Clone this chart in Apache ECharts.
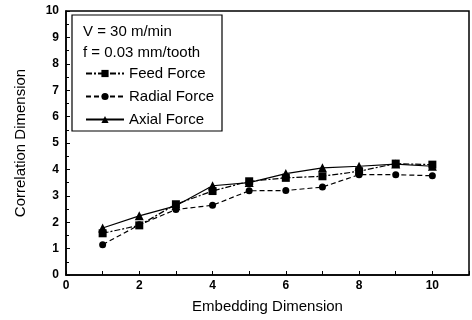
<!DOCTYPE html>
<html><head><meta charset="utf-8">
<script src="https://cdn.jsdelivr.net/npm/echarts@6/dist/echarts.min.js"></script>
<style>html,body{margin:0;padding:0;background:#fff}#c{width:472px;height:320px}</style>
</head><body><div id="c"></div>
<script>
const embedding = [1,2,3,4,5,6,7,8,9,10];
const feedForce   = [1.58,1.88,2.68,3.18,3.55,3.68,3.74,3.93,4.22,4.18];
const radialForce = [1.15,1.90,2.48,2.64,3.19,3.20,3.33,3.80,3.80,3.76];
const axialForce  = [1.78,2.24,2.62,3.38,3.50,3.84,4.06,4.12,4.20,4.12];
const xTicks = [0,2,4,6,8,10];
const yTicks = [0,1,2,3,4,5,6,7,8,9,10];
const noteLines = ['V = 30 m/min','f = 0.03 mm/tooth'];

const font = '"Liberation Sans", Arial, sans-serif';
const pair = a => a.map((v,i)=>[embedding[i], v]);
const mk = (name, data, symbol, size, type) => ({
  name, type:'line', data: pair(data), symbol, symbolSize:size,
  itemStyle:{color:'#000'}, lineStyle:{color:'#000', width:1.2, type},
  z:3
});
const chart = echarts.init(document.getElementById('c'), null, {renderer:'canvas'});
chart.setOption({
  animation:false,
  backgroundColor:'#fff',
  grid:{left:66, right:3, top:11, bottom:45, show:true, borderColor:'#000', borderWidth:1.5},
  xAxis:{type:'value', min:0, max:11, interval:1,
    name:'Embedding Dimension', nameLocation:'middle', nameGap:24,
    nameTextStyle:{fontFamily:font, fontSize:15, color:'#000'},
    axisLine:{lineStyle:{color:'#000', width:1.5}},
    axisTick:{inside:true, length:4, lineStyle:{color:'#000'}},
    axisLabel:{fontFamily:font, fontSize:12, fontWeight:'bold', color:'#000', margin:5,
      formatter: v => xTicks.includes(v) ? String(v) : ''},
    splitLine:{show:false}},
  yAxis:{type:'value', min:0, max:10, interval:1,
    name:'Correlation Dimension', nameLocation:'middle', nameGap:38,
    nameTextStyle:{fontFamily:font, fontSize:15, color:'#000'},
    axisLine:{lineStyle:{color:'#000', width:1.5}},
    axisTick:{inside:true, length:4, lineStyle:{color:'#000'}},
    minorTick:{show:true, splitNumber:2, length:3, lineStyle:{color:'#000'}},
    axisLabel:{fontFamily:font, fontSize:12, fontWeight:'bold', color:'#000', margin:7,
      formatter: v => yTicks.includes(v) ? String(v) : ''},
    splitLine:{show:false}},
  legend:{orient:'vertical', left:85, top:66, padding:0, itemWidth:38, itemHeight:9, itemGap:8, z:20,
    textStyle:{fontFamily:font, fontSize:15, color:'#000'},
    data:['Feed Force','Radial Force','Axial Force']},
  graphic:[
    {type:'rect', shape:{x:72, y:15, width:150, height:116}, style:{fill:'#fff', stroke:'#000', lineWidth:1.2}, z:5},
    {type:'text', left:83, top:24, style:{text:noteLines[0], fontFamily:font, fontSize:15, fill:'#000'}, z:11},
    {type:'text', left:83, top:45, style:{text:noteLines[1], fontFamily:font, fontSize:15, fill:'#000'}, z:11}
  ],
  series:[
    mk('Feed Force', feedForce, 'rect', 8, [6,2,2,2]),
    mk('Radial Force', radialForce, 'circle', 7, [5,3]),
    mk('Axial Force', axialForce, 'triangle', 9, 'solid')
  ]
});
</script></body></html>
